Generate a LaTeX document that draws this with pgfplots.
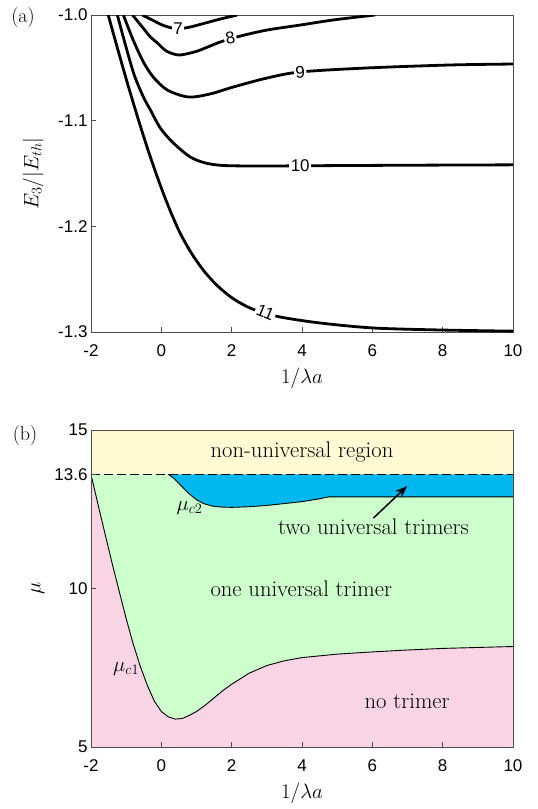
\documentclass[border=0pt]{standalone}
\usepackage{pgfplots}
\pgfplotsset{compat=1.18}
\usepackage{fontspec}
\newfontfamily\tickfont{Liberation Sans}
\usetikzlibrary{arrows.meta}
\definecolor{cyel}{RGB}{255,250,212}
\definecolor{cgrn}{RGB}{204,255,204}
\definecolor{cblu}{RGB}{0,183,238}
\definecolor{cpnk}{RGB}{248,212,229}
\pgfplotsset{
 myax/.style={
  scale only axis, width=422pt, height=317pt,
  xmin=-2,xmax=10,
  xtick={-2,0,2,4,6,8,10}, xticklabels={-2,0,2,4,6,8,10},
  tick align=inside, xtick pos=lower, ytick pos=left,
  major tick length=5pt,
  tick label style={font=\fontsize{17}{17}\tickfont},
  xticklabel style={yshift=-9pt},
  axis line style={black!70}, tick style={black!70, line width=0.6pt},
  label style={font=\fontsize{20}{24}\selectfont},
  xlabel={$1/\lambda a$},
  x label style={at={(axis description cs:0.5,-0.145)},anchor=center},
  /pgf/number format/assume math mode=true,
 },
 curv/.style={black, line width=2.8pt, smooth, tension=0.5},
}
\tikzset{
 clab/.style={fill=white, inner sep=1.5pt, font=\fontsize{17}{17}\tickfont},
 ann/.style={font=\fontsize{22.6}{26}\selectfont, inner sep=0pt},
}
\begin{document}
\begin{tikzpicture}
\useasboundingbox (-91pt,-477pt) rectangle (447pt,332pt);
\begin{axis}[myax, at={(0pt,0pt)}, anchor=south west,
  ymin=-1.3, ymax=-1.0,
  ytick={-1.3,-1.2,-1.1,-1.0}, yticklabels={-1.3,-1.2,-1.1,-1.0},
  ylabel={$E_3/|E_{th}|$},
  y label style={at={(axis description cs:-0.137,0.5)},anchor=center},
  clip=true]
% n = 11
\addplot[curv] coordinates {(-1.51,-1.0) (-1.3,-1.0252) (-1.1,-1.0488) (-0.9,-1.0718) (-0.65,-1.0993) (-0.4,-1.1256) (-0.11,-1.1537) (0.2,-1.181) (0.54,-1.2068) (0.9,-1.2277) (1.25,-1.2438) (1.6,-1.2564) (1.96,-1.2665) (2.3,-1.2736) (2.67,-1.2792) (3.38,-1.2858) (4.52,-1.2915) (6.03,-1.2962) (7.93,-1.2981) (10,-1.2992)};
% n = 10
\addplot[curv] coordinates {(-1.25,-1.0) (-1.02,-1.0284) (-0.77,-1.0568) (-0.51,-1.0776) (-0.31,-1.0899) (-0.03,-1.1069) (0.34,-1.1211) (0.82,-1.1343) (1.25,-1.140) (1.76,-1.1424) (2.81,-1.1429) (5,-1.1425) (7.5,-1.1421) (10,-1.1418)};
% n = 9
\addplot[curv] coordinates {(-1.08,-1.0) (-0.80,-1.0237) (-0.51,-1.0445) (-0.23,-1.0587) (0.17,-1.071) (0.77,-1.0776) (1.39,-1.0747) (2.05,-1.0681) (3.01,-1.0596) (3.95,-1.0539) (5.86,-1.0501) (8.22,-1.0473) (10,-1.0464)};
% n = 8
\addplot[curv] coordinates {(-0.82,-1.0) (-0.54,-1.0114) (-0.31,-1.0208) (-0.11,-1.0265) (0.14,-1.0341) (0.48,-1.0378) (0.82,-1.036) (1.11,-1.0331) (1.68,-1.0255) (2.25,-1.0199) (3.01,-1.0142) (3.95,-1.0095) (4.89,-1.0047) (6.08,-1.0)};
% n = 7
\addplot[curv] coordinates {(-0.54,-1.0) (-0.26,-1.0047) (0.03,-1.0095) (0.31,-1.0123) (0.54,-1.0128) (0.82,-1.0114) (1.25,-1.0076) (1.68,-1.0038) (2.16,-1.0)};
\node[clab] at (axis cs:0.48,-1.0125) {7};
\node[clab, rotate=10] at (axis cs:1.96,-1.0218) {8};
\node[clab, rotate=4] at (axis cs:3.95,-1.0539) {9};
\node[clab] at (axis cs:3.95,-1.1426) {10};
\node[clab, rotate=-22] at (axis cs:2.96,-1.2815) {11};
\end{axis}
\node[font=\fontsize{20}{24}\selectfont, inner sep=0pt] at (-68pt,314pt) {(a)};

\begin{axis}[myax, at={(0pt,-415pt)}, anchor=south west,
  ymin=5, ymax=15,
  ytick={5,10,13.6,15}, yticklabels={5,10,13.6,15},
  ylabel={$\mu$},
  y label style={at={(axis description cs:-0.126,0.5)},anchor=center},
  axis on top]
\addplot[fill=cgrn, draw=none] coordinates {(-2,5) (10,5) (10,15) (-2,15)};
\addplot[fill=cpnk, draw=none] coordinates {(-2,13.6) (-1.8,12.65) (-1.6,11.72) (-1.4,10.8) (-1.2,9.92) (-1.0,9.05) (-0.8,8.25) (-0.6,7.55) (-0.4,6.95) (-0.2,6.45) (0,6.12) (0.2,5.95) (0.4,5.88) (0.6,5.9) (0.8,6.0) (1.0,6.12) (1.25,6.32) (1.5,6.55) (1.75,6.78) (2.0,6.98) (2.5,7.33) (3.0,7.57) (3.5,7.72) (4.0,7.82) (5.0,7.93) (6.0,8.0) (7.0,8.06) (8.0,8.11) (9.0,8.14) (10,8.17) (10,5) (-2,5)};
\addplot[fill=cyel, draw=none] coordinates {(-2,13.6) (10,13.6) (10,15) (-2,15)};
\addplot[fill=cblu, draw=none] coordinates {(0.2,13.6) (0.35,13.48) (0.5,13.32) (0.65,13.14) (0.8,12.98) (1.0,12.8) (1.2,12.68) (1.45,12.6) (1.7,12.57) (2.0,12.56) (2.5,12.58) (3.0,12.62) (3.5,12.68) (4.0,12.74) (4.5,12.83) (4.75,12.89) (10,12.89) (10,13.6)};
\addplot[black, line width=0.9pt, line join=round] coordinates {(-2,13.6) (-1.8,12.65) (-1.6,11.72) (-1.4,10.8) (-1.2,9.92) (-1.0,9.05) (-0.8,8.25) (-0.6,7.55) (-0.4,6.95) (-0.2,6.45) (0,6.12) (0.2,5.95) (0.4,5.88) (0.6,5.9) (0.8,6.0) (1.0,6.12) (1.25,6.32) (1.5,6.55) (1.75,6.78) (2.0,6.98) (2.5,7.33) (3.0,7.57) (3.5,7.72) (4.0,7.82) (5.0,7.93) (6.0,8.0) (7.0,8.06) (8.0,8.11) (9.0,8.14) (10,8.17)};
\addplot[black, line width=0.9pt, line join=round] coordinates {(0.2,13.6) (0.35,13.48) (0.5,13.32) (0.65,13.14) (0.8,12.98) (1.0,12.8) (1.2,12.68) (1.45,12.6) (1.7,12.57) (2.0,12.56) (2.5,12.58) (3.0,12.62) (3.5,12.68) (4.0,12.74) (4.5,12.83) (4.75,12.89) (10,12.89)};
\addplot[black, line width=1.3pt, dash pattern=on 9pt off 4pt] coordinates {(-2,13.6) (10,13.6)};
\addplot[black, line width=1.5pt, -{Stealth[length=12pt,width=9pt]}] coordinates {(6.03,12.22) (6.99,13.23)};
\node[ann] at (axis cs:4.0,14.3) {non-universal region};
\node[ann] at (axis cs:6.03,11.94) {two universal trimers};
\node[ann] at (axis cs:3.98,10.0) {one universal trimer};
\node[ann] at (axis cs:6.99,6.45) {no trimer};
\node[ann] at (axis cs:-1.0,7.45) {$\mu_{c1}$};
\node[ann] at (axis cs:0.8,12.54) {$\mu_{c2}$};
\end{axis}
\node[font=\fontsize{20}{24}\selectfont, inner sep=0pt] at (-66pt,-104pt) {(b)};
\end{tikzpicture}
\end{document}
